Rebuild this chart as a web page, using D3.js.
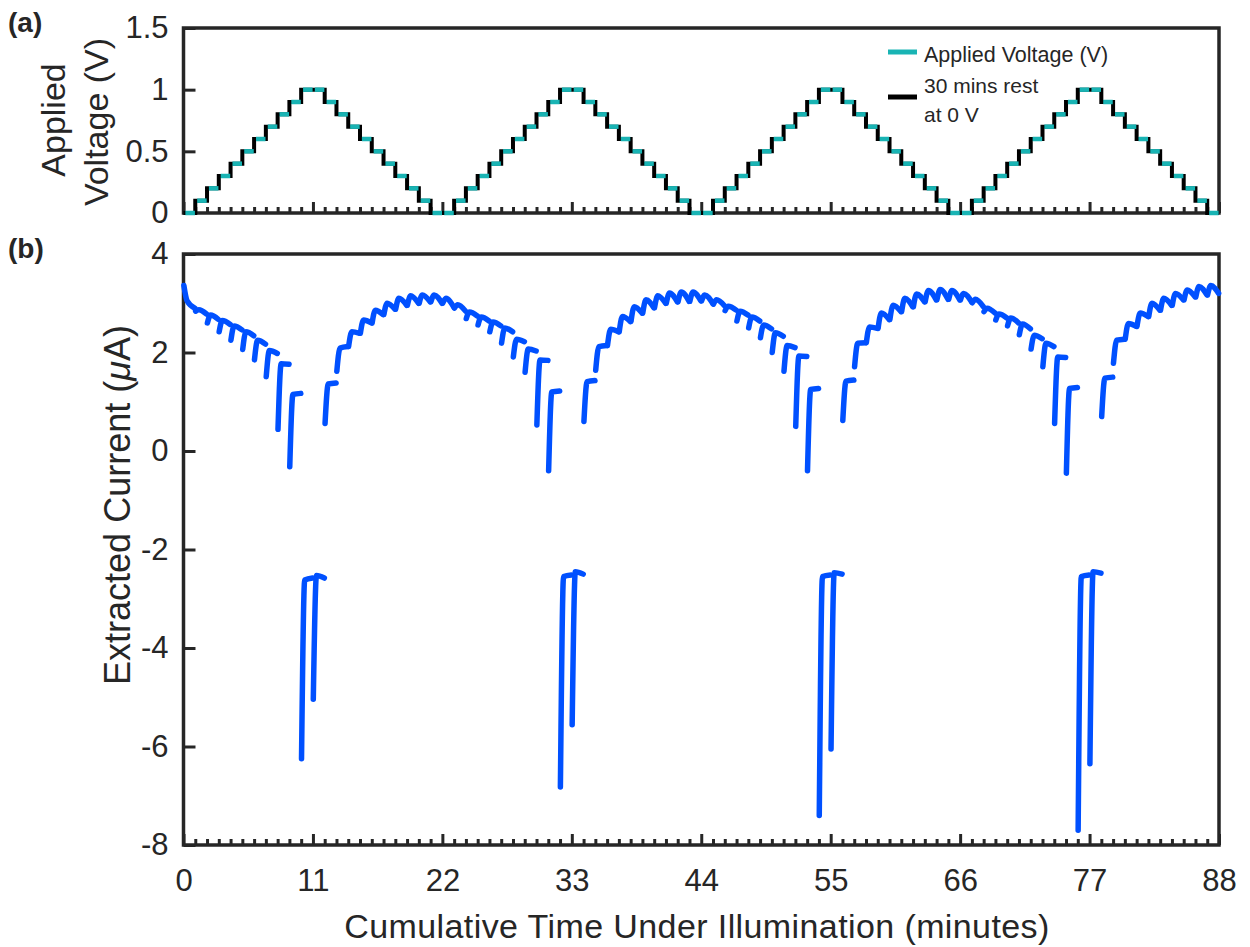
<!DOCTYPE html>
<html><head><meta charset="utf-8">
<script src="https://cdn.jsdelivr.net/npm/d3@7"></script>
<style>body{margin:0;background:#fff}text{font-family:"Liberation Sans",Arial,sans-serif;fill:#262626}</style>
</head><body>
<svg id="chart" width="1250" height="947"></svg>
<script>
// ---------- data ----------
const timeTicks = [0, 11, 22, 33, 44, 55, 66, 77, 88];
const voltageTicks = [0, 0.5, 1, 1.5];
const currentTicks = [4, 2, 0, -2, -4, -6, -8];

// applied voltage at each 1-minute illuminated step (V)
const appliedVoltage = [
  0, 0.1, 0.2, 0.3, 0.4, 0.5, 0.6, 0.7, 0.8, 0.9, 1, 1, 0.9, 0.8, 0.7, 0.6, 0.5, 0.4, 0.3, 0.2, 0.1, 0,
  0, 0.1, 0.2, 0.3, 0.4, 0.5, 0.6, 0.7, 0.8, 0.9, 1, 1, 0.9, 0.8, 0.7, 0.6, 0.5, 0.4, 0.3, 0.2, 0.1, 0,
  0, 0.1, 0.2, 0.3, 0.4, 0.5, 0.6, 0.7, 0.8, 0.9, 1, 1, 0.9, 0.8, 0.7, 0.6, 0.5, 0.4, 0.3, 0.2, 0.1, 0,
  0, 0.1, 0.2, 0.3, 0.4, 0.5, 0.6, 0.7, 0.8, 0.9, 1, 1, 0.9, 0.8, 0.7, 0.6, 0.5, 0.4, 0.3, 0.2, 0.1, 0
];

// extracted current per step: [start of step, after transient, end of step] (µA)
const currentCycle1 = [
  [3.36, 3.05, 2.90], [2.84, 2.87, 2.78], [2.60, 2.76, 2.67], [2.42, 2.65, 2.57], [2.25, 2.54, 2.46],
  [2.06, 2.42, 2.34], [1.85, 2.25, 2.17], [1.51, 2.04, 1.98], [0.44, 1.77, 1.76], [-0.32, 1.15, 1.17],
  [-6.25, -2.62, -2.58], [-5.04, -2.53, -2.58], [0.56, 1.36, 1.38], [1.62, 2.09, 2.12], [2.12, 2.42, 2.39],
  [2.39, 2.66, 2.60], [2.60, 2.86, 2.77], [2.77, 3.00, 2.88], [2.88, 3.10, 2.96], [2.96, 3.15, 3.00],
  [3.00, 3.17, 3.03], [3.03, 3.17, 3.00]
];
const currentCycle2 = [
  [3.00, 3.10, 2.92], [2.90, 2.97, 2.84], [2.69, 2.82, 2.74], [2.56, 2.72, 2.64], [2.42, 2.62, 2.54],
  [2.19, 2.50, 2.42], [1.91, 2.27, 2.22], [1.60, 2.07, 2.03], [0.53, 1.85, 1.84], [-0.40, 1.20, 1.22],
  [-6.82, -2.55, -2.52], [-5.56, -2.45, -2.50], [0.60, 1.41, 1.43], [1.64, 2.12, 2.14], [2.14, 2.47, 2.42],
  [2.42, 2.73, 2.63], [2.63, 2.93, 2.80], [2.80, 3.07, 2.91], [2.91, 3.15, 3.00], [3.00, 3.21, 3.03],
  [3.03, 3.23, 3.04], [3.04, 3.23, 3.05]
];
const currentCycle3 = [
  [3.05, 3.17, 3.00], [2.98, 3.07, 2.95], [2.85, 2.94, 2.86], [2.64, 2.84, 2.76], [2.50, 2.72, 2.64],
  [2.30, 2.56, 2.48], [2.00, 2.40, 2.33], [1.62, 2.14, 2.10], [0.50, 1.93, 1.92], [-0.40, 1.25, 1.27],
  [-7.40, -2.55, -2.52], [-6.05, -2.47, -2.50], [0.62, 1.42, 1.44], [1.71, 2.19, 2.20], [2.20, 2.52, 2.49],
  [2.49, 2.80, 2.67], [2.67, 2.96, 2.83], [2.83, 3.10, 2.93], [2.93, 3.19, 3.03], [3.03, 3.26, 3.07],
  [3.07, 3.28, 3.08], [3.08, 3.26, 3.07]
];
const currentCycle4 = [
  [3.07, 3.20, 3.03], [3.01, 3.08, 2.93], [2.83, 2.90, 2.80], [2.66, 2.78, 2.70], [2.54, 2.70, 2.60],
  [2.36, 2.58, 2.48], [2.07, 2.35, 2.28], [1.71, 2.19, 2.12], [0.56, 1.91, 1.90], [-0.45, 1.27, 1.29],
  [-7.70, -2.55, -2.52], [-6.35, -2.45, -2.48], [0.70, 1.48, 1.50], [1.78, 2.25, 2.27], [2.27, 2.59, 2.53],
  [2.53, 2.80, 2.73], [2.73, 3.00, 2.86], [2.86, 3.10, 2.96], [2.96, 3.20, 3.07], [3.07, 3.27, 3.13],
  [3.13, 3.34, 3.17], [3.17, 3.36, 3.20]
];

// ---------- layout ----------
const svg = d3.select("#chart");
const X0 = 183.5, X1 = 1219;
const topPanel = {top: 28, bottom: 213};
const botPanel = {top: 254, bottom: 845};
const axisColor = "#262626";
const cyan = "#19b4b4", blue = "#0050ff";
const FONT = '"Liberation Sans",Arial,sans-serif';

const x = d3.scaleLinear().domain([0, 88]).range([X0, X1]);
const yV = d3.scaleLinear().domain([0, 1.5]).range([topPanel.bottom, topPanel.top]);
const yI = d3.scaleLinear().domain([-8, 4]).range([botPanel.bottom, botPanel.top]);
const minorTimes = d3.range(0, 89).filter(t => !timeTicks.includes(t));
const hyphenFmt = d => String(d).replace("\u2212", "-");

function drawAxes(panel, yScale, yTicks, fmt, showXLabels) {
  const gx = svg.append("g").attr("transform", `translate(0,${panel.bottom})`);
  gx.call(d3.axisBottom(x).tickValues(minorTimes).tickSize(-6).tickFormat(""));
  gx.call(g => g.select(".domain").remove());
  const gx2 = svg.append("g").attr("transform", `translate(0,${panel.bottom})`);
  gx2.call(d3.axisBottom(x).tickValues(timeTicks).tickSize(-11).tickPadding(24)
      .tickFormat(showXLabels ? (d => String(d)) : ""));
  gx2.call(g => g.select(".domain").remove());
  const gy = svg.append("g").attr("transform", `translate(${X0},0)`);
  gy.call(d3.axisLeft(yScale).tickValues(yTicks).tickSize(-12).tickPadding(15).tickFormat(fmt));
  gy.call(g => g.select(".domain").remove());
  svg.selectAll(".tick line").attr("stroke", axisColor).attr("stroke-width", 3);
  svg.selectAll(".tick text").attr("font-size", 31).attr("fill", axisColor).attr("font-family", FONT);
  svg.append("rect").attr("x", X0).attr("y", panel.top)
     .attr("width", X1 - X0).attr("height", panel.bottom - panel.top)
     .attr("fill", "none").attr("stroke", axisColor).attr("stroke-width", 3.5);
}

drawAxes(topPanel, yV, voltageTicks, d => String(d), false);
drawAxes(botPanel, yI, currentTicks, d => hyphenFmt(d), true);

// ---------- voltage (top) ----------
const stepPts = appliedVoltage.map((v, i) => [i, v]).concat([[88, appliedVoltage[87]]]);
svg.append("path").datum(stepPts)
  .attr("d", d3.line().x(d => x(d[0])).y(d => yV(d[1])).curve(d3.curveStepAfter))
  .attr("fill", "none").attr("stroke", "#000").attr("stroke-width", 4);
svg.append("g").selectAll("line").data(appliedVoltage).join("line")
  .attr("x1", (v, i) => x(i + 0.16)).attr("x2", (v, i) => x(i + 0.97))
  .attr("y1", v => yV(v)).attr("y2", v => yV(v))
  .attr("stroke", cyan).attr("stroke-width", 4.5);

// legend
const lg = svg.append("g");
lg.append("line").attr("x1", 888).attr("x2", 917).attr("y1", 52).attr("y2", 52)
  .attr("stroke", cyan).attr("stroke-width", 5);
lg.append("text").attr("x", 924).attr("y", 61.5).attr("font-size", 21.5).text("Applied Voltage (V)").attr("fill", "#111");
lg.append("line").attr("x1", 888).attr("x2", 917).attr("y1", 97).attr("y2", 97)
  .attr("stroke", "#000").attr("stroke-width", 5);
lg.append("text").attr("x", 924).attr("y", 93).attr("font-size", 21).text("30 mins rest").attr("fill", "#111");
lg.append("text").attr("x", 924).attr("y", 121.5).attr("font-size", 21).text("at 0 V").attr("fill", "#111");

// ---------- current (bottom) ----------
const allCurrent = [].concat(currentCycle1, currentCycle2, currentCycle3, currentCycle4);
const segLine = d3.line().x(d => x(d[0])).y(d => yI(d[1])).curve(d3.curveMonotoneX);
svg.append("g").selectAll("path").data(allCurrent).join("path")
  .attr("d", (s, i) => segLine([[i + 0.03, s[0]], [i + 0.3, s[1]], [i + 0.97, s[2]]]))
  .attr("fill", "none").attr("stroke", blue).attr("stroke-width", 5.5)
  .attr("stroke-linecap", "round").attr("stroke-linejoin", "round");

// ---------- titles ----------
svg.append("text").attr("x", 697).attr("y", 938).attr("text-anchor", "middle")
  .attr("font-size", 34).attr("letter-spacing", 0.4).text("Cumulative Time Under Illumination (minutes)");
svg.append("text").attr("transform", "translate(65,120) rotate(-90)").attr("text-anchor", "middle")
  .attr("font-size", 34).text("Applied");
svg.append("text").attr("transform", "translate(108,122) rotate(-90)").attr("text-anchor", "middle")
  .attr("font-size", 34).text("Voltage (V)");
const yt = svg.append("text").attr("transform", "translate(130,505) rotate(-90)").attr("text-anchor", "middle")
  .attr("font-size", 36);
yt.append("tspan").text("Extracted Current (");
yt.append("tspan").attr("font-style", "italic").text("μ");
yt.append("tspan").text("A)");
svg.append("text").attr("x", 8).attr("y", 32).attr("font-size", 28).attr("font-weight", "bold").text("(a)");
svg.append("text").attr("x", 8).attr("y", 258).attr("font-size", 28).attr("font-weight", "bold").text("(b)");
</script>
</body></html>
